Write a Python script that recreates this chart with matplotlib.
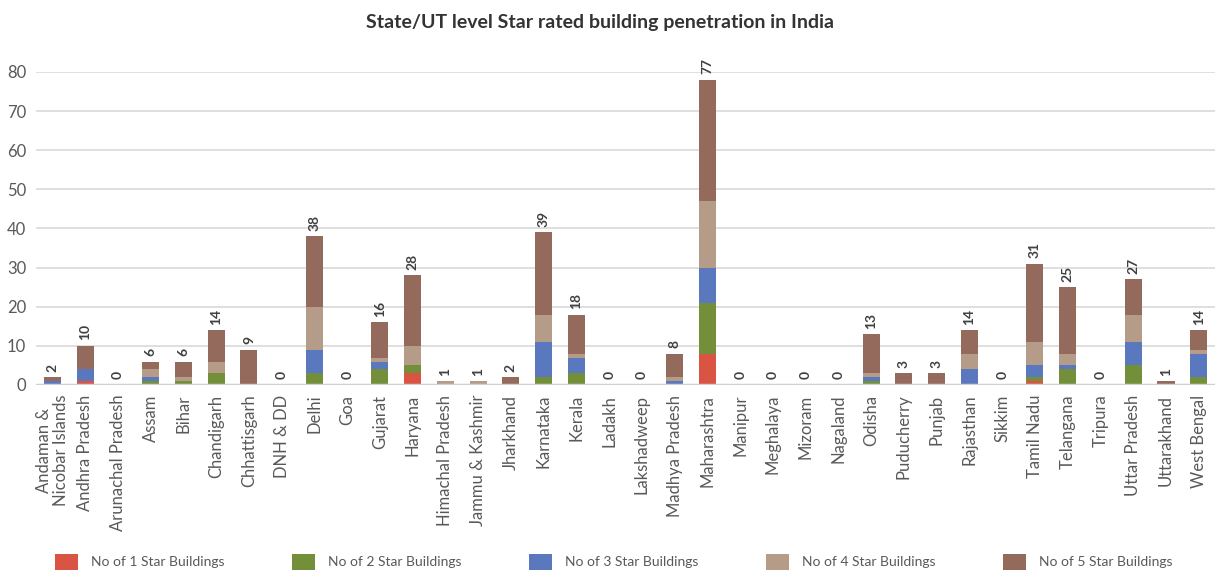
import matplotlib
matplotlib.use("Agg")
import matplotlib.pyplot as plt
import numpy as np

states = ["Andaman &\nNicobar Islands", "Andhra Pradesh", "Arunachal Pradesh", "Assam", "Bihar",
          "Chandigarh", "Chhattisgarh", "DNH & DD", "Delhi", "Goa", "Gujarat", "Haryana",
          "Himachal Pradesh", "Jammu & Kashmir", "Jharkhand", "Karnataka", "Kerala", "Ladakh",
          "Lakshadweep", "Madhya Pradesh", "Maharashtra", "Manipur", "Meghalaya", "Mizoram",
          "Nagaland", "Odisha", "Puducherry", "Punjab", "Rajasthan", "Sikkim", "Tamil Nadu",
          "Telangana", "Tripura", "Uttar Pradesh", "Uttarakhand", "West Bengal"]

star1 = [0, 1, 0, 0, 0, 0, 0, 0, 0, 0, 0, 3, 0, 0, 0, 0, 0, 0, 0, 0, 8, 0, 0, 0, 0, 0, 0, 0, 0, 0, 1, 0, 0, 0, 0, 0]
star2 = [0, 0, 0, 1, 1, 3, 0, 0, 3, 0, 4, 2, 0, 0, 0, 2, 3, 0, 0, 0, 13, 0, 0, 0, 0, 1, 0, 0, 0, 0, 1, 4, 0, 5, 0, 2]
star3 = [1, 3, 0, 1, 0, 0, 0, 0, 6, 0, 2, 0, 0, 0, 0, 9, 4, 0, 0, 1, 9, 0, 0, 0, 0, 1, 0, 0, 4, 0, 3, 1, 0, 6, 0, 6]
star4 = [0, 0, 0, 2, 1, 3, 0, 0, 11, 0, 1, 5, 1, 1, 0, 7, 1, 0, 0, 1, 17, 0, 0, 0, 0, 1, 0, 0, 4, 0, 6, 3, 0, 7, 0, 1]
star5 = [1, 6, 0, 2, 4, 8, 9, 0, 18, 0, 9, 18, 0, 0, 2, 21, 10, 0, 0, 6, 31, 0, 0, 0, 0, 10, 3, 3, 6, 0, 20, 17, 0, 9, 1, 5]
totals = [2, 10, 0, 6, 6, 14, 9, 0, 38, 0, 16, 28, 1, 1, 2, 39, 18, 0, 0, 8, 77, 0, 0, 0, 0, 13, 3, 3, 14, 0, 31, 25, 0, 27, 1, 14]

series_names = ["No of 1 Star Buildings", "No of 2 Star Buildings", "No of 3 Star Buildings",
                "No of 4 Star Buildings", "No of 5 Star Buildings"]
colors = ["#DA5444", "#738F3A", "#5A78BE", "#B49C88", "#946A5C"]

plt.rcParams['font.family'] = ['Lato', 'DejaVu Sans']

fig = plt.figure(figsize=(12.2, 5.7), dpi=100)
ax = fig.add_axes([0.0295, 0.3246, 0.9665, 0.5491])

x = np.arange(len(states))
bottom = np.zeros(len(states))
handles = []
for vals, name, col in zip([star1, star2, star3, star4, star5], series_names, colors):
    v = np.array(vals, dtype=float)
    h = ax.bar(x, v, bottom=bottom, width=0.52, color=col, label=name, zorder=3)
    handles.append(h)
    bottom += v

for xi, top, t in zip(x, bottom, totals):
    ax.annotate(str(t), (xi, top), xytext=(0, 4), textcoords="offset points",
                rotation=90, ha="center", va="bottom", fontsize=10, fontweight="bold",
                color="#404040")

ax.set_xlim(-0.5, len(states) - 0.5)
ax.set_ylim(0, 80)
ax.set_yticks(range(0, 81, 10))
ax.yaxis.grid(True, color="#d9d9d9", linewidth=1.2, zorder=0)
ax.axhline(0, color="#cfcfcf", linewidth=2.5, zorder=4)
for s in ax.spines.values():
    s.set_visible(False)
ax.tick_params(axis="both", length=0, colors="#595959")
ax.tick_params(axis="y", labelsize=12, pad=7)
ax.set_xticks(x)
ax.set_xticklabels(states, rotation=90, fontsize=12, color="#595959",
                   linespacing=1.05)
ax.tick_params(axis="x", pad=7)

fig.text(0.492, 0.96, "State/UT level Star rated building penetration in India",
         ha="center", va="center", fontsize=14, fontweight="bold", color="#333333")

fig.legend(handles=handles, labels=series_names, loc="lower center", ncol=5,
           bbox_to_anchor=(0.503, -0.022), frameon=False, fontsize=10,
           handlelength=1.65, handleheight=1.45, handletextpad=0.93,
           columnspacing=4.88, labelcolor="#595959")

fig.savefig("out.png", dpi=100)
